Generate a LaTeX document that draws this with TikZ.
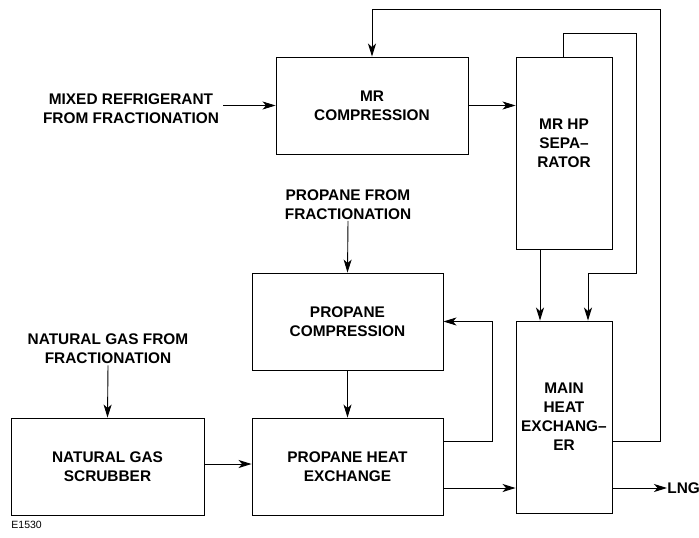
\documentclass[tikz,border=0pt]{standalone}
\usepackage{fontspec}
\setmainfont{Liberation Sans}
\usetikzlibrary{arrows.meta}
\tikzset{
  unit/.style={draw, line width=.9pt, align=center, inner sep=0pt},
  feed/.style={align=center, inner sep=1pt},
}
\begin{document}
\begin{tikzpicture}[x=1pt, y=-1pt, line width=.9pt, line join=miter,
    >={Stealth[length=13pt,width=8pt,inset=3.5pt]},
    font=\fontsize{15.4}{19}\selectfont\bfseries]
	\useasboundingbox (0,0) rectangle (699,538);
	% process units
	\node[unit, minimum width=192pt, minimum height=97pt] (mrc) at (372,105.5) {MR\\COMPRESSION};
	\node[unit, minimum width=96pt, minimum height=192pt] (sep) at (564,153) {MR HP\\SEPA--\\RATOR\\\mbox{}};
	\node[unit, minimum width=191pt, minimum height=97pt] (pc) at (347.5,321.5) {PROPANE\\COMPRESSION};
	\node[unit, minimum width=96pt, minimum height=192pt] (main) at (564,417) {MAIN\\HEAT\\EXCHANG--\\ER};
	\node[unit, minimum width=193pt, minimum height=97pt] (scrub) at (107.5,466.5) {NATURAL GAS\\SCRUBBER};
	\node[unit, minimum width=191pt, minimum height=97pt] (phx) at (347.5,466.5) {PROPANE HEAT\\EXCHANGE};
	% feeds
	\node[feed] (mixed) at (131,109) {MIXED REFRIGERANT\\FROM FRACTIONATION};
	\node[feed] (propfrom) at (348,204.5) {PROPANE FROM\\FRACTIONATION};
	\node[feed] (natfrom) at (108,349) {NATURAL GAS FROM\\FRACTIONATION};
	\node[anchor=west, inner sep=0pt] (lng) at (667,488) {LNG};
	\node[anchor=west, inner sep=0pt, font=\fontsize{10.5}{12}\selectfont] (tag) at (11,525) {E1530};
	% streams
	\draw[->] (mixed.east |- mrc.west) ++(3,0) -- (mrc.west);
	\draw[->] (mrc.east) -- (mrc.east -| sep.west);
	\draw[->] (propfrom.south) -- (pc.north);
	\draw[->] (pc.south) -- (phx.north);
	\draw[->] (natfrom.south) -- (scrub.north);
	\draw[->] (scrub.east |- 0,464) -- (phx.west |- 0,464);
	\draw[->] (phx.east |- 0,441) -- (492,441) |- (pc.east);
	\draw[->] (phx.east |- 0,488) -- (main.west |- 0,488);
	\draw[->] (sep.south -| 540,0) -- (main.north -| 540,0);
	\draw[->] (sep.north -| 563,0) -- (563,33) -- (636,33) -- (636,273) -- (588,273) -- (main.north -| 588,0);
	\draw[->] (main.east |- 0,441) -- (660,441) -- (660,9) -- (372,9) -- (mrc.north);
	\draw[->] (main.east |- lng.west) -- (lng.west);
\end{tikzpicture}
\end{document}
